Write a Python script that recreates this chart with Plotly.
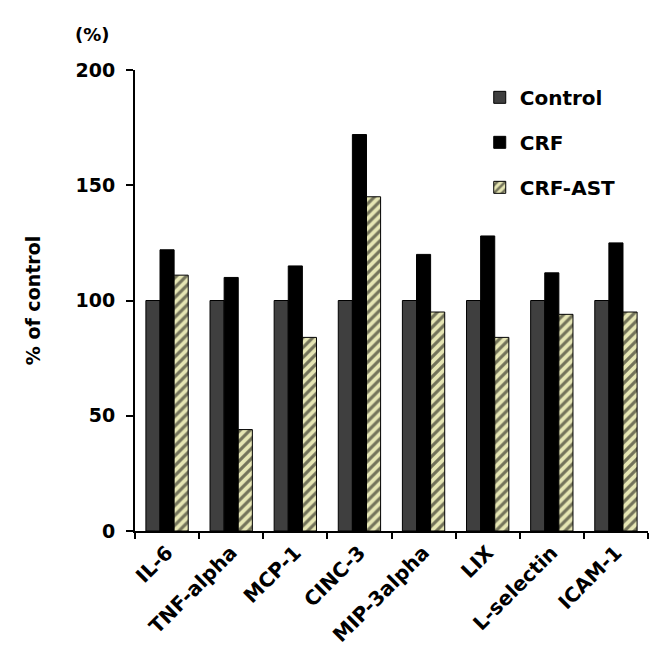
import plotly.graph_objects as go

categories = ["IL-6", "TNF-alpha", "MCP-1", "CINC-3", "MIP-3alpha", "LIX", "L-selectin", "ICAM-1"]
control = [100, 100, 100, 100, 100, 100, 100, 100]
crf = [122, 110, 115, 172, 120, 128, 112, 125]
crf_ast = [111, 44, 84, 145, 95, 84, 94, 95]
y_ticks = [0, 50, 100, 150, 200]

FONT = "DejaVu Sans, Arial, sans-serif"
BOLD = dict(family=FONT, color="black", weight="bold")

fig = go.Figure()
fig.add_trace(go.Bar(name="Control", x=categories, y=control, legendgroup="a",
                     marker=dict(color="#3f3f3f", line=dict(color="black", width=1))))
fig.add_trace(go.Bar(name="CRF", x=categories, y=crf, legendgroup="b",
                     marker=dict(color="black", line=dict(color="black", width=1))))
fig.add_trace(go.Bar(name="CRF-AST", x=categories, y=crf_ast, legendgroup="c",
                     marker=dict(color="#e6e6b4", line=dict(color="black", width=1),
                                 pattern=dict(shape="/", fgcolor="black", bgcolor="#e6e6b4",
                                              size=7, solidity=0.45))))

fig.update_layout(
    width=658, height=663,
    margin=dict(l=127, r=18, t=62, b=140, autoexpand=False),
    paper_bgcolor="white", plot_bgcolor="white",
    barmode="group", bargap=0.34, bargroupgap=0,
    font=dict(family=FONT, color="black", size=16),
    showlegend=True,
    legend=dict(x=0.672, y=0.983, xanchor="left", yanchor="top",
                font=dict(size=20, **BOLD),
                traceorder="grouped", tracegroupgap=16,
                bgcolor="rgba(0,0,0,0)", itemwidth=30),
    xaxis=dict(
        showline=True, linecolor="black", linewidth=2,
        ticks="outside", tickson="boundaries", ticklen=6, tickwidth=2, tickcolor="black",
        tickangle=-45, automargin=False,
        tickfont=dict(size=20, **BOLD),
        showgrid=False,
    ),
    yaxis=dict(
        range=[0, 200], tickvals=y_ticks, automargin=False,
        showline=True, linecolor="black", linewidth=2,
        ticks="outside", ticklen=7, tickwidth=2, tickcolor="black",
        ticklabelstandoff=7,
        tickfont=dict(size=19, **BOLD),
        showgrid=False, zeroline=False,
        title=dict(text="% of control", font=dict(size=19, **BOLD), standoff=30),
    ),
    annotations=[dict(text="(%)", xref="paper", yref="paper", x=-0.082, y=1.078,
                      xanchor="center", yanchor="middle", showarrow=False,
                      font=dict(size=18, **BOLD))],
)

fig.write_html("out.html")
